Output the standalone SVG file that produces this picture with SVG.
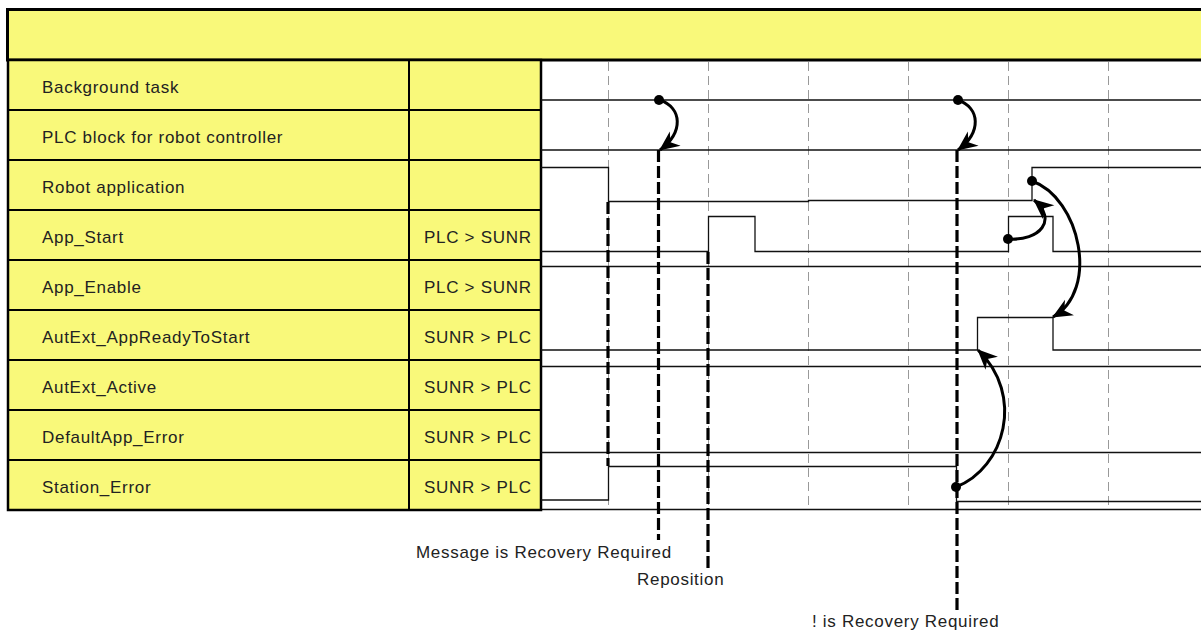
<svg xmlns="http://www.w3.org/2000/svg" width="1201" height="633" viewBox="0 0 1201 633">
<style>
.cell{fill:#F9F97A;stroke:#000;stroke-width:2}
.lbl{font-family:"Liberation Sans",Arial,sans-serif;font-size:17px;letter-spacing:0.7px;fill:#222}
.sig{fill:none;stroke:#111;stroke-width:1.3}
.grid{stroke:#999;stroke-width:1;stroke-dasharray:9 5}
.ev{fill:none;stroke:#000;stroke-width:3.2;stroke-dasharray:12 4}
.arc{fill:none;stroke:#000;stroke-width:3}
.dot{fill:#000}
</style>
<defs>
<marker id="ah" markerUnits="userSpaceOnUse" viewBox="0 0 20 18" markerWidth="20" markerHeight="18" refX="19" refY="9" orient="auto" overflow="visible">
<path d="M0,0 L20,9 L0,18 L6,9 Z" fill="#000"/>
</marker>
</defs>
<rect width="1201" height="633" fill="#fff"/>
<g id="header">
<rect x="7.5" y="9.5" width="1200" height="50.5" fill="#F9F97A" stroke="#000" stroke-width="3"/>
</g>
<g id="gridlines">
<line class="grid" x1="608.5" y1="62" x2="608.5" y2="510"/>
<line class="grid" x1="708.5" y1="62" x2="708.5" y2="510"/>
<line class="grid" x1="808.5" y1="62" x2="808.5" y2="510"/>
<line class="grid" x1="908.5" y1="62" x2="908.5" y2="510"/>
<line class="grid" x1="1008.5" y1="62" x2="1008.5" y2="510"/>
<line class="grid" x1="1108.5" y1="62" x2="1108.5" y2="510"/>
<line x1="541" y1="509.5" x2="1201" y2="509.5" stroke="#111" stroke-width="1.3"/>
</g>
<g id="row-background-task">
<rect class="cell" x="8" y="60" width="401" height="50"/><rect class="cell" x="409" y="60" width="132" height="50"/>
<text class="lbl" x="42" y="93">Background task</text>
</g>
<g id="row-plc-block">
<rect class="cell" x="8" y="110" width="401" height="50"/><rect class="cell" x="409" y="110" width="132" height="50"/>
<text class="lbl" x="42" y="143">PLC block for robot controller</text>
</g>
<g id="row-robot-application">
<rect class="cell" x="8" y="160" width="401" height="50"/><rect class="cell" x="409" y="160" width="132" height="50"/>
<text class="lbl" x="42" y="193">Robot application</text>
</g>
<g id="row-app-start">
<rect class="cell" x="8" y="210" width="401" height="50"/><rect class="cell" x="409" y="210" width="132" height="50"/>
<text class="lbl" x="42" y="243">App_Start</text>
<text class="lbl" x="424" y="243">PLC &gt; SUNR</text>
</g>
<g id="row-app-enable">
<rect class="cell" x="8" y="260" width="401" height="50"/><rect class="cell" x="409" y="260" width="132" height="50"/>
<text class="lbl" x="42" y="293">App_Enable</text>
<text class="lbl" x="424" y="293">PLC &gt; SUNR</text>
</g>
<g id="row-autext-appreadytostart">
<rect class="cell" x="8" y="310" width="401" height="50"/><rect class="cell" x="409" y="310" width="132" height="50"/>
<text class="lbl" x="42" y="343">AutExt_AppReadyToStart</text>
<text class="lbl" x="424" y="343">SUNR &gt; PLC</text>
</g>
<g id="row-autext-active">
<rect class="cell" x="8" y="360" width="401" height="50"/><rect class="cell" x="409" y="360" width="132" height="50"/>
<text class="lbl" x="42" y="393">AutExt_Active</text>
<text class="lbl" x="424" y="393">SUNR &gt; PLC</text>
</g>
<g id="row-defaultapp-error">
<rect class="cell" x="8" y="410" width="401" height="50"/><rect class="cell" x="409" y="410" width="132" height="50"/>
<text class="lbl" x="42" y="443">DefaultApp_Error</text>
<text class="lbl" x="424" y="443">SUNR &gt; PLC</text>
</g>
<g id="row-station-error">
<rect class="cell" x="8" y="460" width="401" height="50"/><rect class="cell" x="409" y="460" width="132" height="50"/>
<text class="lbl" x="42" y="493">Station_Error</text>
<text class="lbl" x="424" y="493">SUNR &gt; PLC</text>
</g>
<rect x="8" y="60" width="533" height="450" fill="none" stroke="#000" stroke-width="2.5"/>
<g id="signals">
<path class="sig" d="M541,100 H1201"/>
<path class="sig" d="M541,150 H1201"/>
<path class="sig" d="M541,167.5 H608.5 V201.5 H808.5 V200.5 H1032 V167.5 H1201"/>
<path class="sig" d="M541,251.5 H708.5 V216.5 H755 V251.5 H1008.5 V216.5 H1053 V251.5 H1201"/>
<path class="sig" d="M541,266.5 H1201"/>
<path class="sig" d="M541,350 H977.5 V317.5 H1053 V350 H1201"/>
<path class="sig" d="M541,366.5 H1201"/>
<path class="sig" d="M541,452.5 H1201"/>
<path class="sig" d="M541,500 H608.5 V466.5 H956.5 V501.5 H1201"/>
</g>
<g id="connectors">
<line class="ev" x1="608" y1="202" x2="608" y2="466"/>
<line class="ev" x1="658.5" y1="150" x2="658.5" y2="540" stroke-width="4.2" stroke-dasharray="10 4"/>
<line class="ev" x1="708" y1="252" x2="708" y2="568"/>
<line class="ev" x1="957" y1="150" x2="957" y2="610" stroke-width="2.6" stroke-dasharray="13 4"/>
<path class="arc" d="M660,100 C682,108 684,132 660,150" marker-end="url(#ah)"/>
<path class="arc" d="M958,100 C980,108 982,132 958,150" marker-end="url(#ah)"/>
<path class="arc" d="M1008,239 C1040,241 1058,220 1034,200" marker-end="url(#ah)"/>
<path class="arc" d="M1032,181 C1080,198 1100,290 1053,317" marker-end="url(#ah)"/>
<path class="arc" d="M956,487 C1005,468 1025,395 978,350" marker-end="url(#ah)"/>
<circle class="dot" cx="659" cy="100" r="5"/>
<circle class="dot" cx="958" cy="100" r="5"/>
<circle class="dot" cx="1008" cy="239" r="5"/>
<circle class="dot" cx="1032" cy="181" r="5"/>
<circle class="dot" cx="956" cy="487" r="5"/>
</g>
<g id="event-labels">
<text class="lbl" x="416" y="558">Message is Recovery Required</text>
<text class="lbl" x="637" y="585">Reposition</text>
<text class="lbl" x="812" y="627">! is Recovery Required</text>
</g>
</svg>
